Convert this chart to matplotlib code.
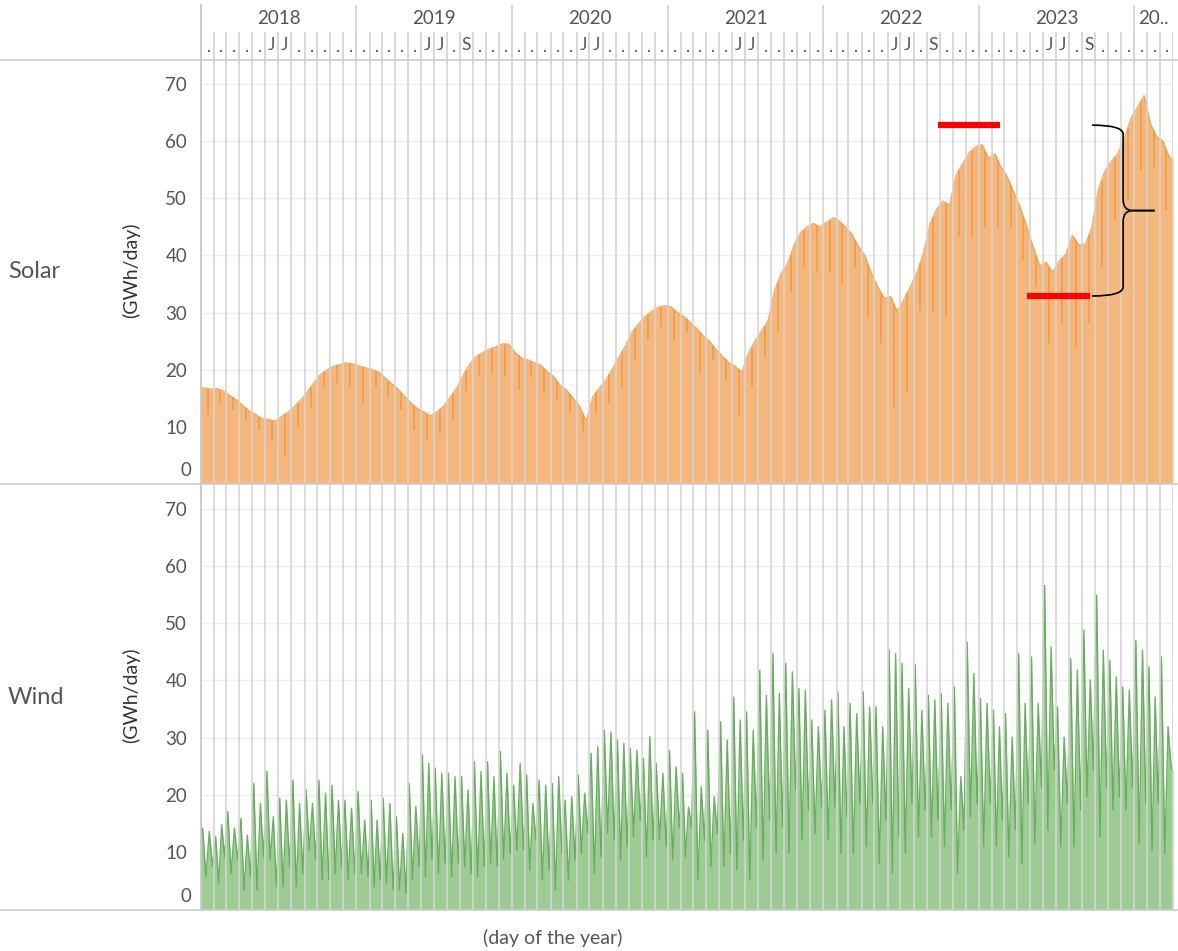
import numpy as np
import pandas as pd
import matplotlib
matplotlib.use("Agg")
import matplotlib.pyplot as plt
from matplotlib.lines import Line2D
from matplotlib.path import Path
from matplotlib.patches import PathPatch

plt.rcParams['font.family'] = ['Lato', 'DejaVu Sans']

# ---------------- data ----------------
year_labels = ['2018', '2019', '2020', '2021', '2022', '2023', '20..']
month_marks = ['.....JJ.....', '.....JJ.S...', '.....JJ.....', '.....JJ.....',
               '.....JJ.S...', '.....JJ.S...', '...']
first_day = '2018-01-01'
last_month = '2024-03-01'

# Solar, GWh/day: value in the first and second half of each month (Jan 2018 .. Mar 2024)
solar_first_half = [
    16.8, 16.7, 15.5, 13.8, 12.2, 11.3, 11.8, 13.6, 16.2, 19.2, 20.6, 21.2,
    20.6, 20.0, 18.6, 16.6, 14.2, 12.6, 12.6, 15.2, 19.0, 22.3, 23.6, 24.5,
    23.0, 21.7, 20.8, 18.8, 16.4, 13.5, 15.3, 18.2, 22.2, 26.6, 29.3, 30.9,
    31.0, 29.3, 27.3, 25.0, 22.4, 20.6, 22.8, 26.8, 33.8, 38.5, 44.0, 45.6,
    45.8, 46.0, 43.8, 40.0, 34.5, 32.8, 32.2, 37.0, 45.5, 49.5, 54.0, 57.9,
    59.4, 57.8, 53.8, 48.5, 41.5, 38.8, 39.0, 43.5, 42.0, 51.5, 56.5, 60.5,
    66.0, 63.0, 60.0]
solar_second_half = [
    16.6, 16.3, 14.8, 12.8, 11.4, 11.0, 12.6, 14.8, 17.8, 20.0, 20.9, 21.0,
    20.3, 19.6, 17.6, 15.4, 13.2, 11.9, 13.6, 16.8, 21.0, 23.0, 24.0, 24.5,
    22.0, 21.2, 19.6, 17.2, 15.0, 11.0, 16.8, 20.2, 24.2, 28.0, 30.2, 31.2,
    30.0, 28.3, 26.0, 23.6, 21.2, 19.5, 25.0, 28.6, 36.8, 41.8, 45.0, 45.0,
    46.6, 45.0, 41.6, 37.0, 32.5, 30.2, 34.5, 40.4, 48.0, 48.8, 56.0, 59.0,
    57.0, 55.5, 51.0, 45.0, 38.2, 37.0, 40.2, 41.8, 45.0, 54.8, 57.8, 64.0,
    68.0, 60.8, 57.0]
# Solar, GWh/day: lowest (cloudy) day visible in each month
solar_dip = [
    12.1, 14.1, 13.0, 11.2, 9.4, 7.4, 4.8, 10.0, 13.5, 17.0, 17.6, 17.0,
    14.1, 17.0, 15.3, 13.0, 9.4, 7.7, 8.9, 11.2, 16.2, 19.0, 19.4, 18.8,
    16.4, 18.8, 15.9, 14.7, 12.4, 8.9, 12.4, 14.1, 17.0, 21.7, 25.2, 27.5,
    25.2, 26.4, 19.4, 21.7, 18.2, 11.8, 17.0, 22.3, 26.4, 33.4, 38.0, 36.9,
    36.9, 35.1, 38.0, 29.3, 24.6, 13.5, 15.9, 30.4, 29.9, 29.3, 43.3, 43.3,
    45.0, 45.0, 45.0, 39.2, 34.5, 24.6, 28.1, 24.0, 28.1, 38.0, 46.2, 49.7,
    55.0, 55.5, 48.0]

# Wind, GWh/day: two daily peaks and two daily lows visible in each month
wind_peak_a = [
    14.2, 12.7, 17.1, 15.9, 22.0, 24.1, 19.4, 22.6, 20.9, 22.6, 21.7, 19.1,
    20.6, 19.1, 19.4, 16.2, 22.0, 27.0, 24.7, 23.8, 23.2, 25.8, 25.8, 27.6,
    21.7, 23.5, 22.6, 22.0, 19.1, 23.5, 27.3, 31.3, 29.6, 28.1, 26.4, 25.5,
    27.8, 23.8, 34.5, 31.3, 32.8, 37.1, 34.5, 41.8, 44.7, 43.0, 38.6, 33.1,
    34.8, 38.0, 36.0, 38.0, 35.4, 45.3, 43.0, 42.7, 37.4, 37.7, 38.9, 46.7,
    36.9, 34.8, 34.2, 44.7, 44.1, 56.6, 35.4, 43.8, 48.8, 54.9, 43.5, 38.9,
    47.0, 42.4, 44.1]
wind_low_a = [
    5.7, 4.6, 6.3, 3.4, 3.4, 8.7, 4.0, 4.0, 10.4, 5.2, 6.3, 5.2,
    6.3, 4.0, 4.6, 3.4, 5.2, 5.7, 6.3, 5.7, 7.5, 5.7, 8.1, 8.7,
    10.4, 6.9, 5.1, 3.4, 5.1, 9.8, 6.3, 13.3, 8.6, 12.7, 9.2, 12.1,
    8.6, 9.2, 5.1, 7.5, 7.5, 6.9, 5.1, 8.6, 9.8, 9.8, 12.1, 13.3,
    12.1, 9.8, 9.8, 11.0, 8.0, 6.3, 9.8, 12.7, 12.7, 11.0, 6.3, 16.2,
    11.0, 11.0, 9.2, 8.0, 11.5, 13.9, 11.0, 11.0, 19.7, 12.7, 17.4, 17.4,
    11.5, 10.4, 9.8]
wind_peak_b = [
    13.6, 14.8, 14.2, 13.0, 18.5, 16.2, 19.1, 18.5, 18.5, 20.3, 19.1, 17.7,
    15.6, 15.6, 18.5, 13.3, 18.0, 25.5, 23.8, 23.2, 20.9, 24.1, 23.2, 23.8,
    25.5, 18.5, 21.7, 23.2, 19.7, 20.3, 28.4, 31.0, 29.0, 27.8, 30.2, 23.8,
    24.9, 17.9, 21.4, 19.7, 29.6, 33.1, 31.3, 37.4, 37.7, 41.5, 38.3, 31.9,
    36.6, 31.9, 34.2, 35.4, 31.9, 44.7, 38.6, 34.8, 36.6, 36.0, 23.2, 41.2,
    36.0, 31.9, 30.1, 36.0, 36.0, 45.9, 30.1, 41.8, 40.1, 45.3, 40.6, 38.3,
    45.3, 37.1, 31.9]
wind_low_b = [
    7.5, 9.2, 8.7, 5.7, 9.2, 4.0, 7.5, 6.3, 8.7, 5.2, 7.5, 6.3,
    5.7, 5.2, 3.4, 2.8, 7.5, 8.7, 8.1, 8.1, 6.3, 7.5, 7.5, 9.8,
    10.4, 12.1, 6.9, 9.8, 8.6, 13.3, 9.2, 12.1, 11.0, 15.6, 12.1, 11.0,
    14.4, 14.4, 12.1, 13.3, 9.8, 12.1, 14.4, 15.6, 14.4, 20.9, 17.4, 17.9,
    17.9, 16.2, 18.5, 18.5, 15.6, 12.7, 18.5, 17.4, 15.6, 17.4, 13.9, 18.5,
    18.5, 15.6, 13.9, 18.5, 21.4, 24.4, 18.5, 17.4, 24.4, 21.4, 19.7, 21.4,
    18.5, 18.5, 24.4]

# annotations drawn on the solar panel
peak_mark = ('2022-09-28', '2023-02-21', 62.8)
trough_mark = ('2023-04-24', '2023-09-19', 32.9)
brace_dates = ('2023-09-24', '2023-12-06', '2024-02-18')

# ---------------- geometry helpers ----------------
t0 = pd.Timestamp(first_day)
month_starts = pd.date_range(first_day, last_month, freq='MS')
month_edges = np.array([(d - t0).days for d in month_starts] +
                       [(month_starts[-1] + pd.offsets.MonthBegin(1) - t0).days], float)
x_end = month_edges[-1]
m_lo, m_len = month_edges[:-1], np.diff(month_edges)


def day(s):
    return (pd.Timestamp(s) - t0).days


# solar series positions
sx = np.column_stack([m_lo + 0.25 * m_len, m_lo + 0.75 * m_len]).ravel()
sy = np.column_stack([solar_first_half, solar_second_half]).ravel()
sx = np.concatenate([[0], sx, [x_end]])
sy = np.concatenate([[sy[0]], sy, [sy[-1]]])
dip_x = m_lo + 0.5 * m_len
dip_top = (np.array(solar_first_half) + np.array(solar_second_half)) / 2

# wind series positions
wx = np.column_stack([m_lo + f * m_len for f in (0.125, 0.375, 0.625, 0.875)]).ravel()
wy = np.column_stack([wind_peak_a, wind_low_a, wind_peak_b, wind_low_b]).ravel()
wx = np.concatenate([[0], wx, [x_end]])
wy = np.concatenate([[wy[0]], wy, [wy[-1]]])

# ---------------- figure ----------------
W, H = 1178, 951
fig = plt.figure(figsize=(W / 100, H / 100), dpi=100)
TXT = '#555555'
GRID = '#d4d4d4'
LEFT, RIGHT = 201, 1173


def px_axes(x0, y0, x1, y1):
    return fig.add_axes([x0 / W, 1 - y1 / H, (x1 - x0) / W, (y1 - y0) / H])


ax_h = px_axes(LEFT, 0, RIGHT, 60)
ax_s = px_axes(LEFT, 60, RIGHT, 484)
ax_w = px_axes(LEFT, 484, RIGHT, 909.5)

# header
ax_h.set_xlim(0, x_end)
ax_h.set_ylim(60, 0)
ax_h.axis('off')
year_starts = [day(f'{y}-01-01') for y in range(2018, 2025)] + [x_end]
ax_h.vlines(year_starts[:-1], 5, 60, color=GRID, lw=1.3)
ax_h.vlines(month_edges, 32, 60, color=GRID, lw=1.3)
for i, lab in enumerate(year_labels):
    ax_h.text((year_starts[i] + year_starts[i + 1]) / 2, 19, lab, ha='center',
              va='center', fontsize=13.5, color=TXT)
marks = ''.join(month_marks)
for i, ch in enumerate(marks):
    ax_h.text(m_lo[i] + m_len[i] / 2, 45 if ch != '.' else 47, ch,
              ha='center', va='center', fontsize=12.5, color=TXT)

panels = [
    (ax_s, sx, sy, '#f5b77c', '#f09a45', 0.9, 0.8, 74.2, 'Solar', 272, 270),
    (ax_w, wx, wy, '#9ccb94', '#5fa955', 1.0, 0.9, 74.3, 'Wind', 697, 695),
]
for ax, x, y, fc, lc, lw, la, ytop, name, ny, uy in panels:
    ax.set_xlim(0, x_end)
    ax.set_ylim(0, ytop)
    for sp in ax.spines.values():
        sp.set_visible(False)
    ax.fill_between(x, 0, y, color=fc, lw=0, zorder=2)
    ax.plot(x, y, color=lc, lw=lw, alpha=la, zorder=2.5)
    for v in range(10, 71, 10):
        ax.axhline(v, color='#eeeeee', lw=1.0, zorder=1)
    ax.vlines(month_edges, 0, ytop, color=GRID, lw=1.3, zorder=3, alpha=0.9)
    ax.set_xticks([])
    ax.set_yticks(range(10, 71, 10))
    ax.set_yticklabels([str(v) for v in range(10, 71, 10)], fontsize=13.5, color=TXT)
    ax.tick_params(axis='y', length=0, pad=10)
    ax.annotate('0', xy=(0, 0), xycoords=('axes fraction', 'data'),
                xytext=(-10, 13.5), textcoords='offset pixels',
                ha='right', va='center', fontsize=13.5, color=TXT)
    fig.text(8 / W, 1 - ny / H, name, ha='left', va='center', fontsize=17, color=TXT)
    fig.text(131 / W, 1 - uy / H, '(GWh/day)', ha='center', va='center',
             rotation=90, fontsize=14, color='#333333')

# cloudy-day dips inside the solar fill
ax_s.vlines(dip_x, solar_dip, dip_top, color='#ef9440', lw=1.3, alpha=0.75, zorder=2.6)

# figure-wide separators
for yy in (60, 484, 909.5):
    fig.add_artist(Line2D([0, 1], [1 - yy / H] * 2, transform=fig.transFigure,
                          color='#cccccc', lw=1.2))
fig.add_artist(Line2D([LEFT / W] * 2, [1 - 5 / H, 1 - 909.5 / H],
                      transform=fig.transFigure, color='#c8c8c8', lw=1.3))

fig.text(553 / W, 1 - 938 / H, '(day of the year)', ha='center', va='center',
         fontsize=14, color=TXT)

# annotations
for a, b, v in (peak_mark, trough_mark):
    ax_s.plot([day(a), day(b)], [v, v], color='#ff0000', lw=4.5,
              solid_capstyle='butt', zorder=5)

bx0, bx1, bx2 = (day(d) for d in brace_dates)
ytop_b, ybot_b = peak_mark[2], trough_mark[2]
ymid = (ytop_b + ybot_b) / 2
r = 1.6
verts_up = [(bx0, ytop_b), (bx1, ytop_b), (bx1, ytop_b - r),
            (bx1, ymid + r * 1.2), (bx1, ymid), (bx1 + (bx2 - bx1) * 0.3, ymid),
            (bx2, ymid)]
codes_up = [Path.MOVETO, Path.CURVE3, Path.CURVE3, Path.LINETO, Path.CURVE3,
            Path.CURVE3, Path.LINETO]
verts_dn = [(bx2, ymid), (bx1 + (bx2 - bx1) * 0.3, ymid), (bx1, ymid),
            (bx1, ymid - r * 1.2), (bx1, ybot_b + r), (bx1, ybot_b), (bx0, ybot_b)]
codes_dn = [Path.MOVETO, Path.LINETO, Path.CURVE3, Path.CURVE3, Path.LINETO,
            Path.CURVE3, Path.CURVE3]
for vv, cc in ((verts_up, codes_up), (verts_dn, codes_dn)):
    ax_s.add_patch(PathPatch(Path(vv, cc), fill=False, color='black', lw=1.2,
                             zorder=6, clip_on=False))

fig.savefig('out.png', dpi=100)
